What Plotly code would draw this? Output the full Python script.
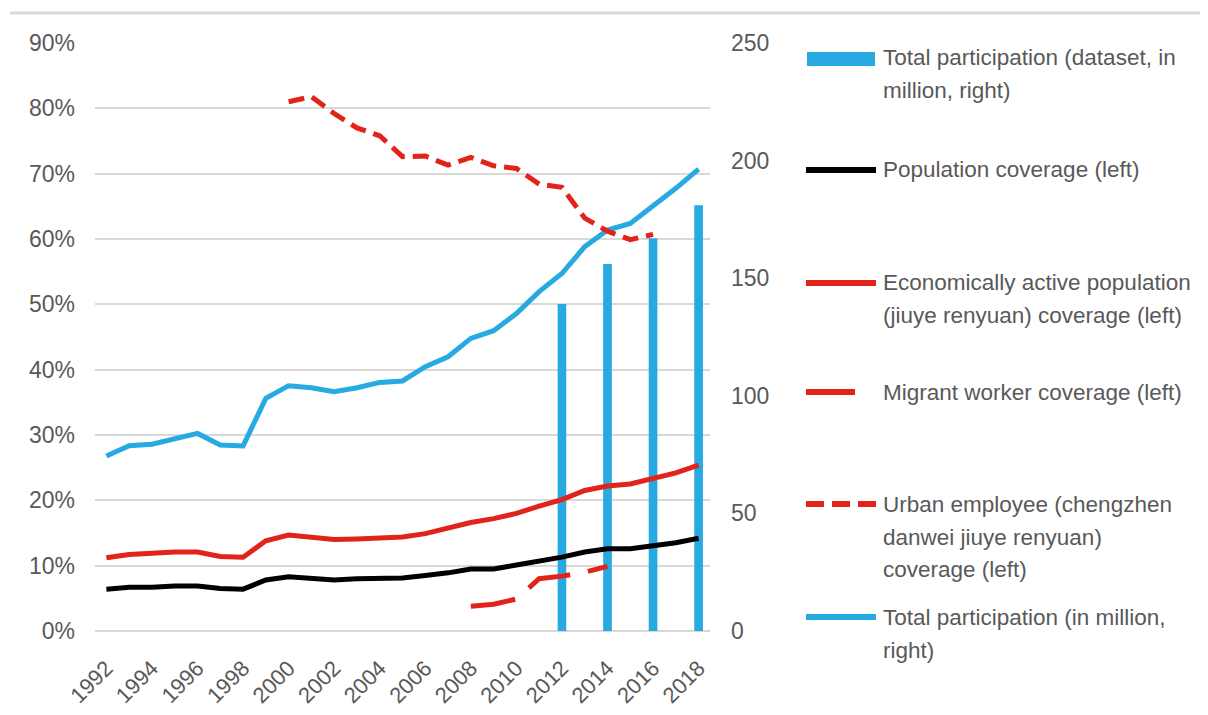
import plotly.graph_objects as go

# ---------------- data ----------------
years = list(range(1992, 2019))
population_coverage = [6.4, 6.7, 6.7, 6.9, 6.9, 6.5, 6.4, 7.8, 8.3, 8.1, 7.8, 8.0, 8.0, 8.1,
                       8.5, 8.9, 9.5, 9.5, 10.1, 10.7, 11.3, 12.1, 12.6, 12.6, 13.1, 13.5, 14.2]
econ_active_coverage = [11.2, 11.7, 11.9, 12.1, 12.1, 11.4, 11.3, 13.8, 14.7, 14.4, 14.0, 14.1, 14.3, 14.4,
                        14.9, 15.7, 16.6, 17.2, 18.0, 19.1, 20.1, 21.5, 22.2, 22.5, 23.3, 24.2, 25.4]
total_participation = [74.4, 78.8, 79.4, 81.9, 84.0, 79.1, 78.7, 98.9, 104.3, 103.4, 101.7, 103.4, 105.7, 106.3,
                       112.4, 116.6, 124.4, 127.7, 135.0, 144.3, 152.0, 163.4, 170.5, 173.3, 180.7, 188.2, 196.4]

urban_years = list(range(2000, 2017))
urban_employee_coverage = [81.0, 81.8, 79.2, 77.0, 75.8, 72.6, 72.7, 71.3, 72.5, 71.2, 70.8, 68.4, 67.9,
                           63.2, 61.2, 59.9, 60.7]

migrant_years = list(range(2008, 2015))
migrant_coverage = [3.8, 4.1, 4.9, 8.0, 8.4, 9.0, 9.9]

dataset_years = [2012, 2014, 2016, 2018]
dataset_participation = [139, 156, 167, 181]

x_ticks = list(range(1992, 2019, 2))
left_ticks = list(range(0, 100, 10))
left_ticktext = [f"{v}%" for v in left_ticks]
right_ticks = list(range(0, 300, 50))

legend_labels = [
    ["Total participation (dataset, in", "million, right)"],
    ["Population coverage (left)"],
    ["Economically active population", "(jiuye renyuan) coverage (left)"],
    ["Migrant worker coverage (left)"],
    ["Urban employee (chengzhen", "danwei jiuye renyuan)", "coverage (left)"],
    ["Total participation (in million,", "right)"],
]

# ---------------- style ----------------
BLUE = "#27A9E1"
RED = "#E2231A"
BLACK = "#000000"
GRID = "#D9D9D9"
TEXT = "#595959"
FONT = "Liberation Sans, Arial, sans-serif"

OFF = 8                      # page body margin
W, H = 1208 - 2 * OFF, 715 - 2 * OFF
PLOT_X0, PLOT_X1 = 95, 710   # screen px of plot area
PLOT_Y0, PLOT_Y1 = 43, 631
L = PLOT_X0 - OFF
R = W - (PLOT_X1 - OFF)
T = PLOT_Y0 - OFF
B = H - (PLOT_Y1 - OFF)
PW, PH = PLOT_X1 - PLOT_X0, PLOT_Y1 - PLOT_Y0


def px(xs):
    return (xs - PLOT_X0) / PW


def py(ys):
    return (PLOT_Y1 - ys) / PH


fig = go.Figure()

# bars + blue line on the right axis (primary, drawn underneath)
fig.add_trace(go.Bar(x=dataset_years, y=dataset_participation, width=0.38,
                     marker=dict(color=BLUE, line=dict(width=0)),
                     name="Total participation (dataset, in million, right)", yaxis="y"))
fig.add_trace(go.Scatter(x=years, y=total_participation, mode="lines",
                         line=dict(color=BLUE, width=5),
                         name="Total participation (in million, right)", yaxis="y"))

# percentage lines on the left axis (overlay, drawn on top)
fig.add_trace(go.Scatter(x=years, y=population_coverage, mode="lines",
                         line=dict(color=BLACK, width=5),
                         name="Population coverage (left)", yaxis="y2"))
fig.add_trace(go.Scatter(x=years, y=econ_active_coverage, mode="lines",
                         line=dict(color=RED, width=5),
                         name="Economically active population (jiuye renyuan) coverage (left)", yaxis="y2"))
fig.add_trace(go.Scatter(x=migrant_years, y=migrant_coverage, mode="lines",
                         line=dict(color=RED, width=5, dash="45px,18px"),
                         name="Migrant worker coverage (left)", yaxis="y2"))
fig.add_trace(go.Scatter(x=urban_years, y=urban_employee_coverage, mode="lines",
                         line=dict(color=RED, width=5, dash="16px,8px"),
                         name="Urban employee (chengzhen danwei jiuye renyuan) coverage (left)", yaxis="y2"))

# ---------------- custom legend ----------------
shapes = []
# top border line
shapes.append(dict(type="line", xref="paper", yref="paper", x0=px(10), x1=px(1208), y0=py(13), y1=py(13),
                   line=dict(color=GRID, width=3)))
sx0, sx1 = 806, 876
shapes.append(dict(type="rect", xref="paper", yref="paper", x0=px(807), x1=px(875),
                   y0=py(52), y1=py(66), fillcolor=BLUE, line=dict(width=0)))
shapes.append(dict(type="line", xref="paper", yref="paper", x0=px(sx0), x1=px(sx1), y0=py(170), y1=py(170),
                   line=dict(color=BLACK, width=6)))
shapes.append(dict(type="line", xref="paper", yref="paper", x0=px(sx0), x1=px(sx1), y0=py(283), y1=py(283),
                   line=dict(color=RED, width=6)))
shapes.append(dict(type="line", xref="paper", yref="paper", x0=px(sx0), x1=px(855), y0=py(392), y1=py(392),
                   line=dict(color=RED, width=6)))
shapes.append(dict(type="line", xref="paper", yref="paper", x0=px(sx0), x1=px(sx1), y0=py(504), y1=py(504),
                   line=dict(color=RED, width=6, dash="18px,8px")))
shapes.append(dict(type="line", xref="paper", yref="paper", x0=px(sx0), x1=px(sx1), y0=py(617), y1=py(617),
                   line=dict(color=BLUE, width=6)))

line_y = [[58, 90], [170], [282, 315], [392], [504, 537, 569], [617, 650]]
annotations = []
for labels, ys in zip(legend_labels, line_y):
    for text, yy in zip(labels, ys):
        annotations.append(dict(text=text, xref="paper", yref="paper", x=px(881), y=py(yy),
                                xanchor="left", yanchor="middle", showarrow=False,
                                font=dict(family=FONT, size=22.5, color=TEXT)))

fig.update_layout(
    width=W, height=H,
    margin=dict(l=L, r=R, t=T, b=B, pad=0, autoexpand=False),
    paper_bgcolor="white", plot_bgcolor="white",
    showlegend=False,
    font=dict(family=FONT, size=23, color=TEXT),
    barmode="overlay",
    xaxis=dict(range=[1991.5, 2018.5], tickmode="array", tickvals=x_ticks,
               ticktext=[str(v) for v in x_ticks], tickangle=-45, automargin=False,
               showgrid=False, zeroline=False, showline=False, ticks="",
               ticklabelstandoff=19, tickfont=dict(size=22, color=TEXT)),
    yaxis=dict(side="right", range=[0, 250], tickmode="array", tickvals=right_ticks, automargin=False,
               showgrid=False, zeroline=False, showline=False, ticks="",
               ticklabelstandoff=20, tickfont=dict(size=23, color=TEXT)),
    yaxis2=dict(side="left", overlaying="y", range=[0, 90], tickmode="array", tickvals=left_ticks,
                ticktext=left_ticktext, showgrid=True, gridcolor=GRID, gridwidth=2, automargin=False,
                zeroline=True, zerolinecolor=GRID, zerolinewidth=2, showline=False, ticks="",
                ticklabelstandoff=19, tickfont=dict(size=23, color=TEXT)),
    shapes=shapes,
    annotations=annotations,
)

fig.write_html("out.html")
